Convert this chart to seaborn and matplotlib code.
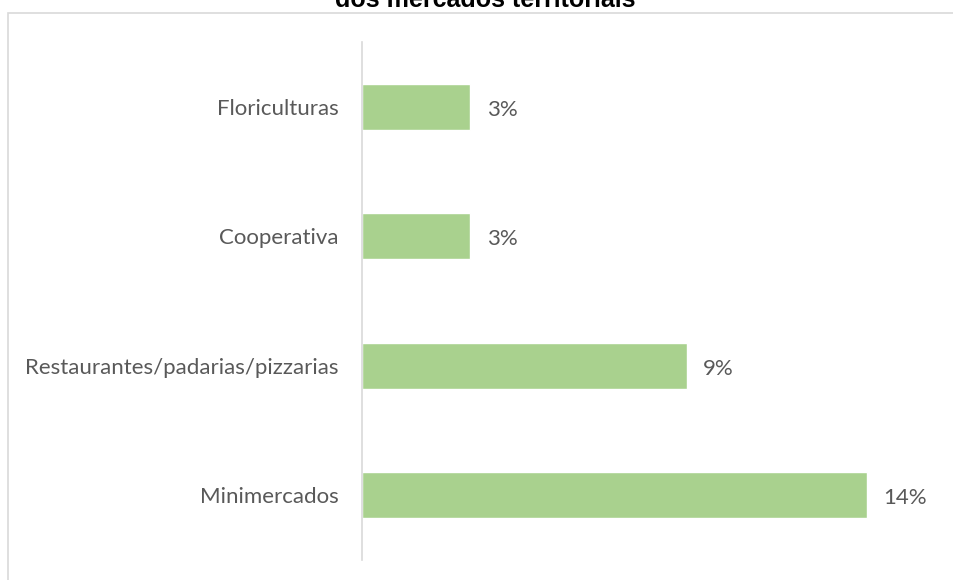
import matplotlib
matplotlib.use("Agg")
import matplotlib.pyplot as plt
import seaborn as sns
import pandas as pd
from matplotlib.patches import Rectangle

categorias = ["Floriculturas", "Cooperativa", "Restaurantes/padarias/pizzarias", "Minimercados"]
percentuais = [3, 3, 9, 14]
titulo = "dos mercados territoriais"

df = pd.DataFrame({"categoria": categorias, "percentual": percentuais})

sns.set_theme(style="white")
plt.rcParams["font.family"] = ["Lato", "DejaVu Sans"]

W, H = 954, 580
fig = plt.figure(figsize=(W / 100, H / 100), dpi=100)

# chart frame (only top and left edges fall inside the canvas)
fig.patches.append(Rectangle((8.5 / W, -0.1), 1.2, 1 - 12.5 / H + 0.1,
                             transform=fig.transFigure, fill=False,
                             edgecolor="#D9D9D9", linewidth=1.2, zorder=0))

ax_left, ax_right = 362 / W, 940 / W
ax_bottom, ax_top = 1 - 560 / H, 1 - 42 / H
ax = fig.add_axes([ax_left, ax_bottom, ax_right - ax_left, ax_top - ax_bottom])
ax.patch.set_alpha(0)

sns.barplot(data=df, x="percentual", y="categoria", order=categorias,
            color="#A9D18E", saturation=1, width=0.356, ax=ax, orient="h")

ax.set_xlim(0, (940 - 362) / 36.07)
ax.set_ylim(3.5, -0.5)
ax.set_xlabel("")
ax.set_ylabel("")
ax.set_xticks([])
for s in ["top", "right", "bottom"]:
    ax.spines[s].set_visible(False)
ax.spines["left"].set_color("#D9D9D9")
ax.spines["left"].set_linewidth(1.2)
ax.tick_params(axis="y", length=0, pad=17, labelsize=16, labelcolor="#595959")

for i, v in enumerate(percentuais):
    ax.annotate(f"{v}%", xy=(v, i), xytext=(12, -2), textcoords="offset points",
                va="center", ha="left", fontsize=16, color="#595959")

fig.text(485 / W, 1 - 7 / H, titulo, ha="center", va="baseline",
         fontsize=18, fontweight="bold", color="black",
         family=["Liberation Sans", "DejaVu Sans"])

fig.savefig("out.png", dpi=100)
